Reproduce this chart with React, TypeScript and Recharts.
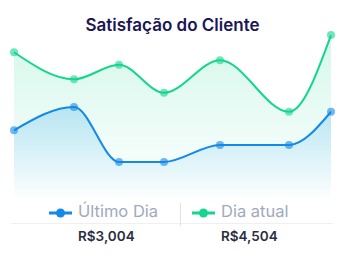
import React from 'react';
import { AreaChart, Area, XAxis, YAxis } from 'recharts';

// horizontal positions of the points (they are not evenly spaced in the picture)
const positions = [0, 60, 105, 150, 206, 275, 317];
const ultimoDia = [41, 54.7, 22.4, 22.4, 32.4, 32.4, 51.9];
const diaAtual = [86.9, 71, 79.6, 63.1, 82.2, 51.9, 97];

const legendItems = [
  { name: 'Último Dia', color: '#1389e8', total: 'R$3,004' },
  { name: 'Dia atual', color: '#14d68c', total: 'R$4,504' },
];

const data = positions.map((x, i) => ({ x, ultimo: ultimoDia[i], atual: diaAtual[i] }));

const font = 'Inter, "Noto Sans", sans-serif';

function LegendIcon({ color }: { color: string }) {
  return (
    <svg width={23} height={10} style={{ display: 'block' }}>
      <line x1={0} y1={5} x2={23} y2={5} stroke={color} strokeWidth={3} strokeLinecap="round" />
      <circle cx={11.5} cy={5} r={4.5} fill={color} />
    </svg>
  );
}

export default function App() {
  return (
    <div
      style={{
        position: 'absolute',
        left: 0,
        top: 0,
        width: 345,
        height: 261,
        background: '#fff',
        fontFamily: font,
      }}
    >
      <div
        style={{
          position: 'absolute',
          top: 15,
          left: 0,
          width: 345,
          textAlign: 'center',
          fontSize: 17,
          fontWeight: 600,
          color: '#1b1656',
        }}
      >
        Satisfação do Cliente
      </div>

      <AreaChart width={345} height={261} data={data} margin={{ top: 30, right: 14, bottom: 61, left: 14 }}>
        <defs>
          <linearGradient id="greenFill" x1="0" y1="0" x2="0" y2="1">
            <stop offset="0%" stopColor="#14d68c" stopOpacity={0.3} />
            <stop offset="100%" stopColor="#14d68c" stopOpacity={0} />
          </linearGradient>
          <linearGradient id="blueFill" x1="0" y1="0" x2="0" y2="1">
            <stop offset="0%" stopColor="#1fa0ee" stopOpacity={0.4} />
            <stop offset="100%" stopColor="#1fa0ee" stopOpacity={0} />
          </linearGradient>
        </defs>
        <XAxis dataKey="x" type="number" domain={[0, 317]} hide />
        <YAxis domain={[0, 100]} hide />
        <Area
          type="monotone"
          dataKey="atual"
          stroke="#14d68c"
          strokeWidth={2}
          fill="url(#greenFill)"
          dot={{ r: 4, fill: '#14d68c', stroke: 'none' }}
          isAnimationActive={false}
        />
        <Area
          type="monotone"
          dataKey="ultimo"
          stroke="#1389e8"
          strokeWidth={2}
          fill="url(#blueFill)"
          dot={{ r: 4, fill: '#1389e8', stroke: 'none' }}
          isAnimationActive={false}
        />
      </AreaChart>

      {/* legend with the totals under it */}
      <div style={{ position: 'absolute', left: 11, top: 223, width: 322, borderTop: '1px solid #eef0f3' }} />
      <div style={{ position: 'absolute', left: 180, top: 203, width: 1, height: 23, background: '#dfe2e8' }} />
      {legendItems.map((item, i) => {
        const left = i === 0 ? 49 : 192;
        return (
          <React.Fragment key={item.name}>
            <div style={{ position: 'absolute', left, top: 208 }}>
              <LegendIcon color={item.color} />
            </div>
            <div
              style={{
                position: 'absolute',
                left: left + 29,
                top: 201,
                fontSize: 16.5,
                color: '#a0a9be',
                whiteSpace: 'nowrap',
              }}
            >
              {item.name}
            </div>
            <div
              style={{
                position: 'absolute',
                left: left + 29,
                top: 228,
                fontSize: 13.5,
                fontWeight: 600,
                color: '#2b2e3f',
                whiteSpace: 'nowrap',
              }}
            >
              {item.total}
            </div>
          </React.Fragment>
        );
      })}
    </div>
  );
}
